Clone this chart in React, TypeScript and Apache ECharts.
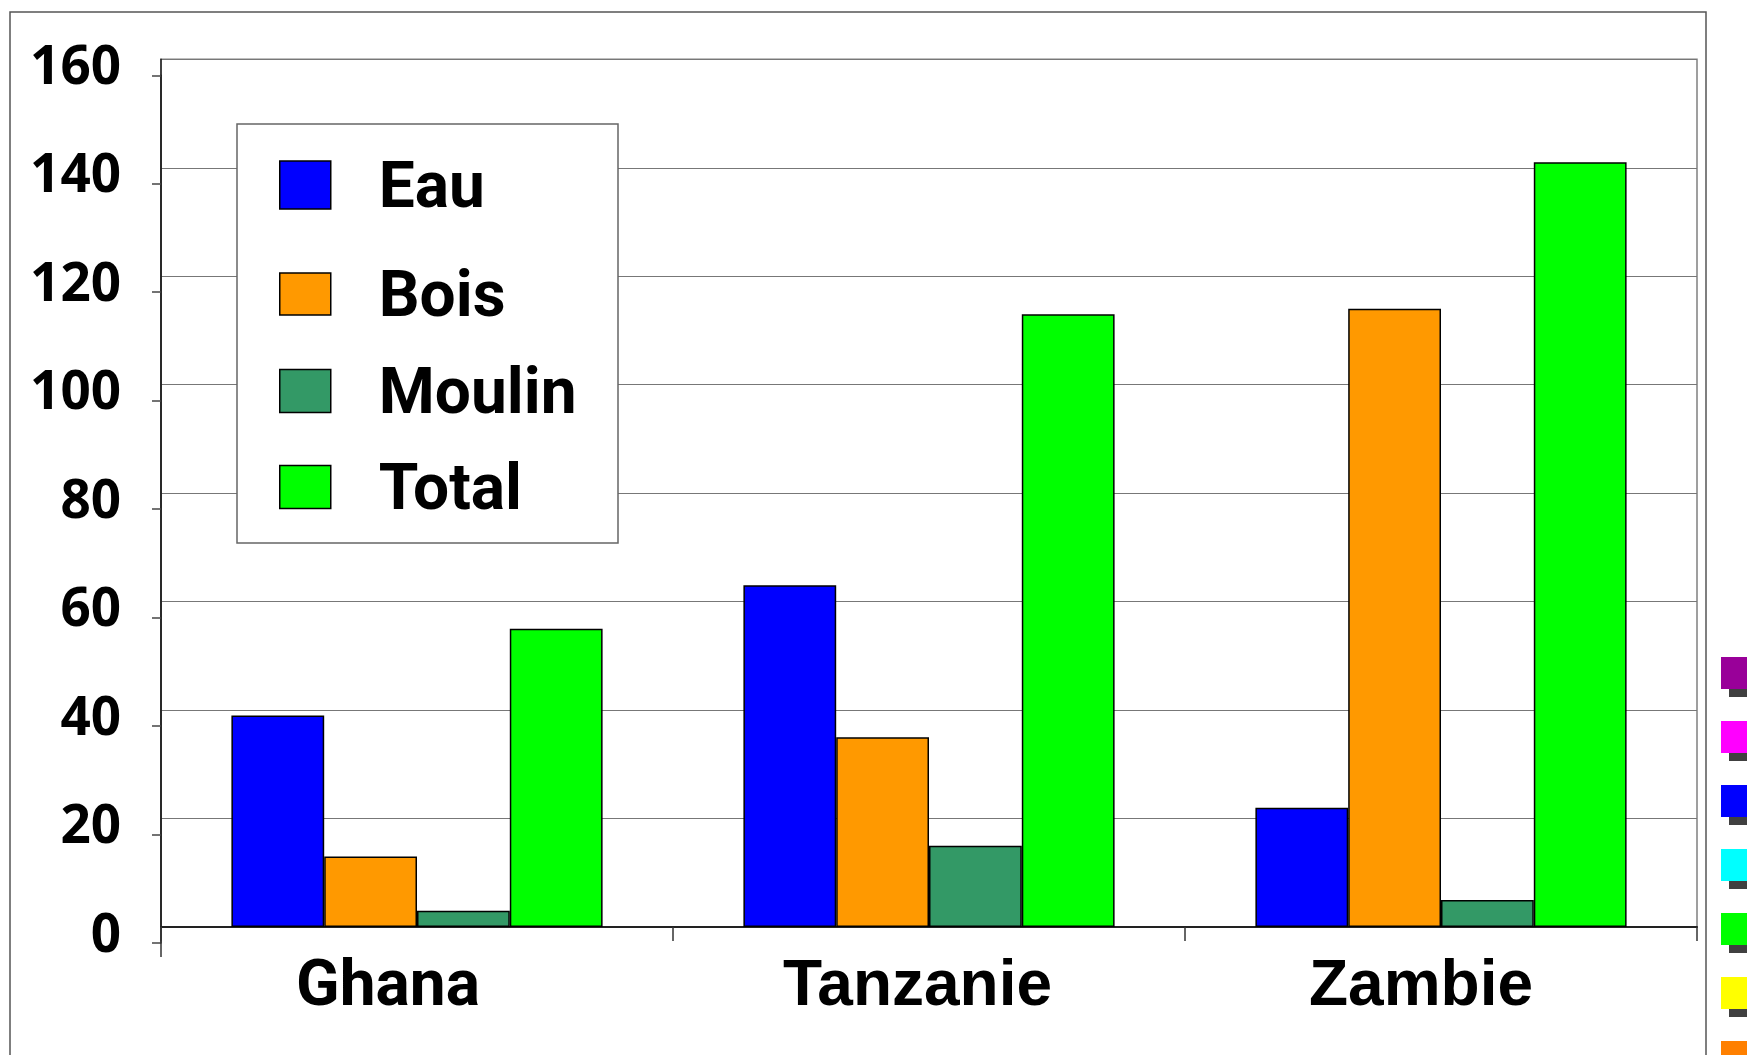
import React, { useEffect, useRef } from "react";
import * as echarts from "echarts";

const categories = ["Ghana", "Tanzanie", "Zambie"];
const seriesNames = ["Eau", "Bois", "Moulin", "Total"];
const eau = [39, 63, 22];
const bois = [13, 35, 114];
const moulin = [3, 15, 5];
const total = [55, 113, 141];
const yMin = 0;
const yMax = 160;
const yStep = 20;
const sideSwatchColors = ["#990099", "#FF00FF", "#0000FF", "#00FFFF", "#00FF00", "#FFFF00", "#FF8000"];

export default function App() {
  const ref = useRef<HTMLDivElement>(null);

  useEffect(() => {
    if (!ref.current) return;
    const chart = echarts.init(ref.current, undefined, { renderer: "svg" });

    const seriesColors = ["#0000FF", "#FF9900", "#339966", "#00FF00"];
    const seriesData = [eau, bois, moulin, total];
    const labelFonts = ["Roboto", "Liberation Sans", "Liberation Sans"];
    const labelPadRight = [58, 23, 40];
    const legendCenters = [185, 294, 391, 487];
    const legendIconH = [48, 42, 43, 43];

    const W = 1747;
    const H = 1055;
    const plotLeft = 161;
    const plotRight = 1697;
    const plotTop = 59.3;
    const plotBottom = 927;
    const shift = 16;

    const swatches: any[] = [];
    sideSwatchColors.forEach((c, i) => {
      const top = 657 + i * 64;
      swatches.push({
        type: "rect",
        silent: true,
        z: 1,
        shape: { x: 1729, y: top + 8, width: 40, height: 32 },
        style: { fill: "#404040" },
      });
      swatches.push({
        type: "rect",
        silent: true,
        z: 1,
        shape: { x: 1721, y: top, width: 40, height: 32 },
        style: { fill: c },
      });
    });

    const legends = seriesNames.map((name, i) => ({
      orient: "vertical",
      left: 279,
      top: legendCenters[i] - 32,
      padding: 0,
      itemWidth: 51,
      itemHeight: legendIconH[i],
      icon: "rect",
      selectedMode: false,
      z: 5,
      itemStyle: { borderColor: "#000", borderWidth: 1.5 },
      textStyle: {
        color: "#000",
        fontSize: 64,
        fontWeight: "bold",
        fontFamily: "Roboto",
        lineHeight: 64,
        padding: [0, 0, 0, 43],
      },
      data: [name],
    }));

    chart.setOption({
      animation: false,
      backgroundColor: "#ffffff",
      grid: [
        {
          left: plotLeft,
          right: W - plotRight,
          top: plotTop,
          bottom: H - plotBottom,
          show: true,
          borderColor: "#808080",
          borderWidth: 1.5,
          backgroundColor: "transparent",
        },
        {
          left: plotLeft,
          right: W - plotRight,
          top: plotTop + shift,
          bottom: H - plotBottom - shift,
        },
      ],
      xAxis: [
        {
          type: "category",
          gridIndex: 0,
          data: categories.map((c, i) => ({
            value: c,
            textStyle: {
              fontFamily: labelFonts[i],
              padding: [0, labelPadRight[i], 0, 0],
            },
          })),
          axisLine: { show: true, lineStyle: { color: "#222", width: 2 } },
          axisTick: { show: true, length: 14, lineStyle: { color: "#333", width: 1.5 } },
          axisLabel: {
            color: "#000",
            fontSize: 64,
            fontWeight: "bold",
            lineHeight: 64,
            margin: 24,
          },
          splitLine: { show: false },
        },
        {
          type: "category",
          gridIndex: 1,
          data: categories,
          show: false,
        },
      ],
      yAxis: [
        {
          type: "value",
          gridIndex: 0,
          min: yMin,
          max: yMax,
          interval: yStep,
          axisLine: { show: true, lineStyle: { color: "#222", width: 1.5 } },
          axisTick: { show: false },
          axisLabel: {
            color: "#000",
            fontSize: 53,
            fontWeight: "bold",
            fontFamily: "Open Sans",
            margin: 40,
            verticalAlign: "top",
            lineHeight: 8,
          },
          splitLine: { show: true, lineStyle: { color: "#777", width: 1.2 } },
        },
        {
          type: "value",
          gridIndex: 1,
          min: yMin,
          max: yMax,
          interval: yStep,
          axisLine: { show: true, lineStyle: { color: "#222", width: 1.5 } },
          axisTick: { show: true, length: 9, lineStyle: { color: "#444", width: 1.5 } },
          axisLabel: { show: false },
          splitLine: { show: false },
        },
      ],
      legend: legends,
      graphic: [
        {
          type: "rect",
          silent: true,
          z: 0,
          shape: { x: 10, y: 12, width: 1696, height: 1100 },
          style: { fill: "none", stroke: "#555", lineWidth: 1.5 },
        },
        {
          type: "rect",
          silent: true,
          z: 3,
          shape: { x: 237, y: 124, width: 381, height: 419 },
          style: { fill: "#ffffff", stroke: "#666", lineWidth: 1.5 },
        },
        {
          type: "line",
          silent: true,
          z: 3,
          shape: { x1: plotLeft, y1: plotBottom, x2: plotLeft, y2: plotBottom + 30 },
          style: { stroke: "#333", lineWidth: 1.5 },
        },
        ...swatches,
      ],
      series: seriesNames.map((name, i) => ({
        name,
        type: "bar",
        xAxisIndex: 0,
        yAxisIndex: 0,
        data: seriesData[i],
        barGap: "0%",
        barCategoryGap: "27.5%",
        itemStyle: { color: seriesColors[i], borderColor: "#000", borderWidth: 1.5 },
      })),
    });

    return () => chart.dispose();
  }, []);

  return (
    <div
      ref={ref}
      style={{ position: "absolute", left: 0, top: 0, width: "1747px", height: "1055px", background: "#fff" }}
    />
  );
}
